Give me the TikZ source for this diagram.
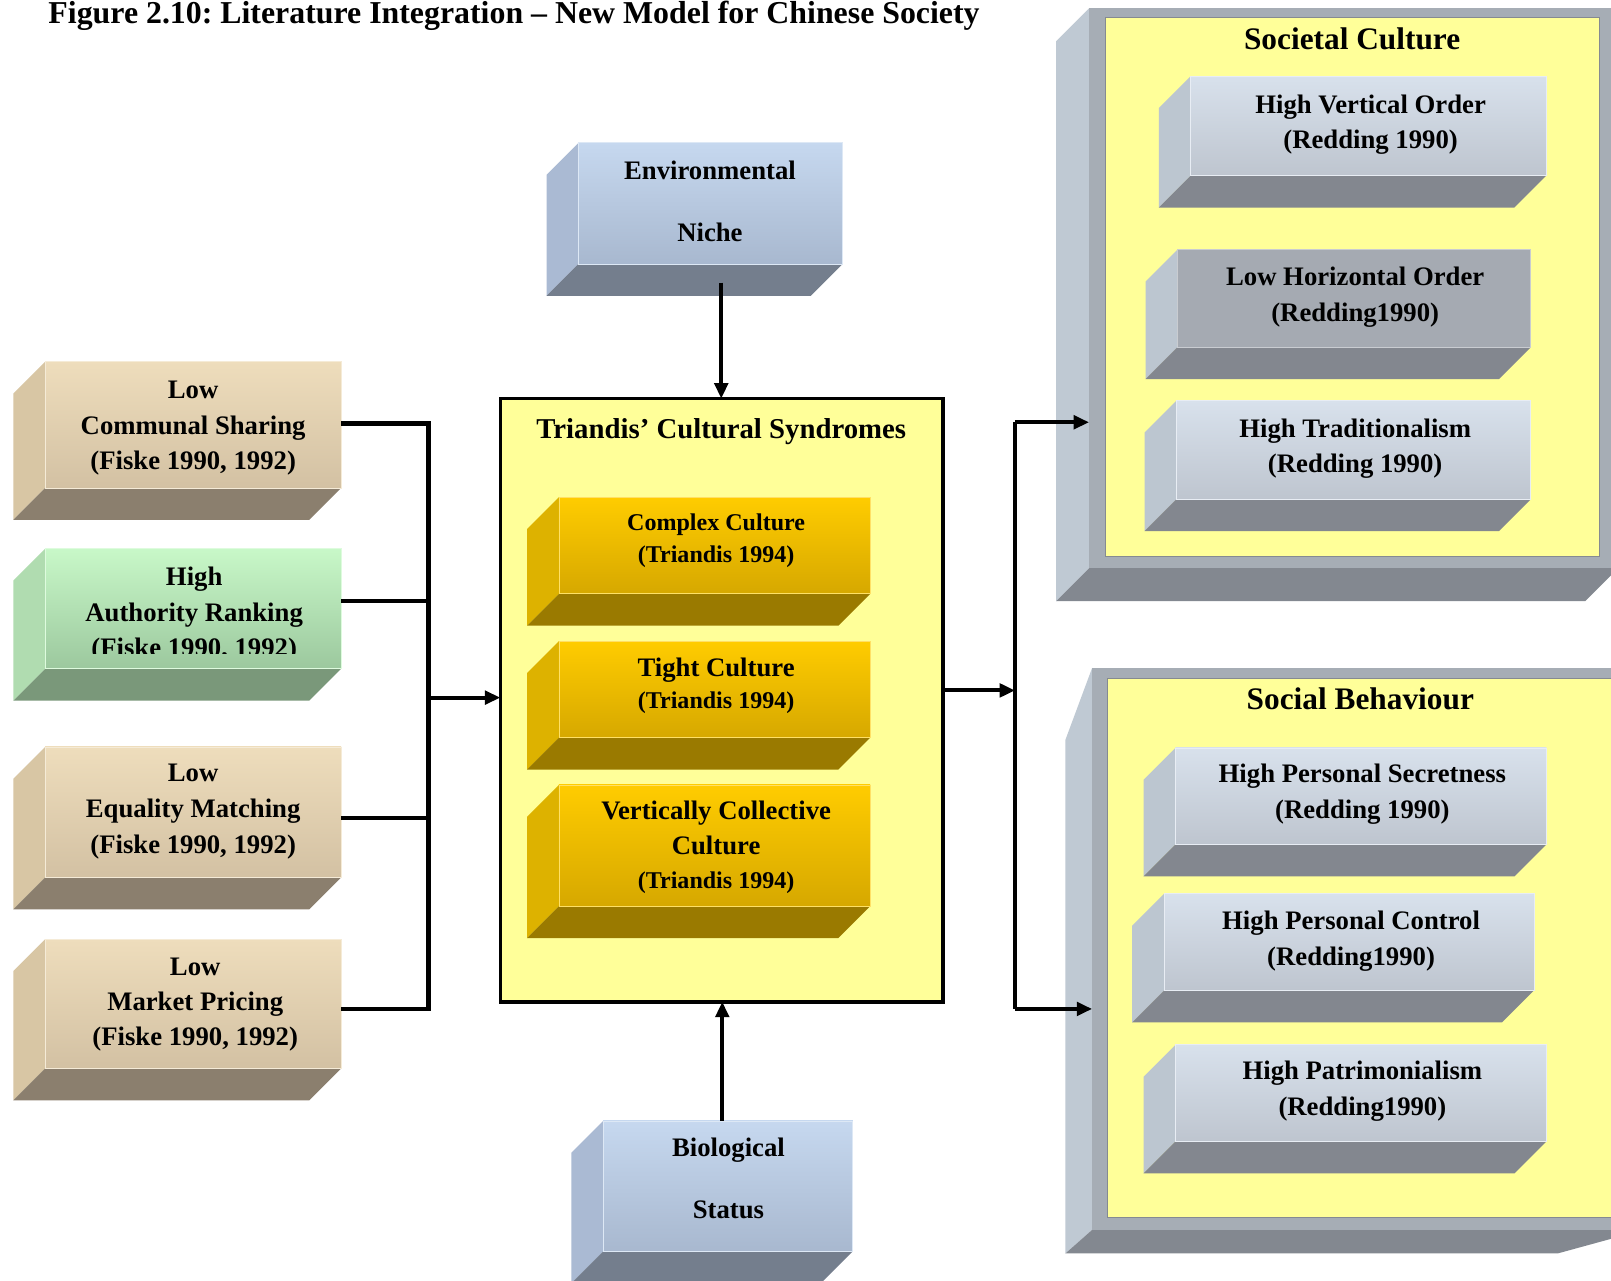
\documentclass[tikz,border=0pt]{standalone}
\usepackage{fontspec}
\setmainfont{Liberation Serif}
\usetikzlibrary{arrows.meta,calc}
\frenchspacing
\definecolor{tanT}{HTML}{EEDDBC}
\definecolor{tanB}{HTML}{D3C1A3}
\definecolor{tanS}{HTML}{D8C6A4}
\definecolor{tanD}{HTML}{8B7F6E}
\definecolor{grnT}{HTML}{C8F8C8}
\definecolor{grnB}{HTML}{9CC89E}
\definecolor{grnS}{HTML}{B0DCB0}
\definecolor{grnD}{HTML}{7A987A}
\definecolor{bluT}{HTML}{C6D8EF}
\definecolor{bluB}{HTML}{A8B8CF}
\definecolor{bluS}{HTML}{AABAD3}
\definecolor{bluD}{HTML}{747E8D}
\definecolor{gldT}{HTML}{FFCC00}
\definecolor{gldB}{HTML}{D6A800}
\definecolor{gldS}{HTML}{DDB200}
\definecolor{gldD}{HTML}{9A7A00}
\definecolor{gryT}{HTML}{D8E1EC}
\definecolor{gryB}{HTML}{BEC5CF}
\definecolor{gryS}{HTML}{BCC6D0}
\definecolor{gryD}{HTML}{83878F}
\definecolor{gryM}{HTML}{A5AAB2}
\definecolor{frm}{HTML}{A6ADB5}
\definecolor{frmS}{HTML}{BFC9D3}
\definecolor{frmD}{HTML}{838890}
\definecolor{paleY}{HTML}{FFFF99}
\tikzset{
  face/.style={shape=rectangle, anchor=north west, inner sep=0pt, outer sep=0pt, line width=0.8pt},
  lbl/.style={align=center, anchor=base, inner sep=0pt, font=\bfseries\fontsize{26}{34.5}\selectfont},
  bus/.style={line width=4.5pt, line join=miter},
  arr/.style={line width=4pt, -{Triangle[length=15pt,width=13pt]}},
}
% #1 name, #2 x, #3 y, #4 w, #5 h, #6 top, #7 bottom, #8 side, #9 base
\newcommand\cuboid[9]{%
  \fill[#8] (#2,#3) -- ++(-31,31) -- ++(0,#5) -- ++(31,-31) -- cycle;
  \fill[#9] ([shift={(0,#5)}]#2,#3) -- ++(#4,0) -- ++(-31,31) -- ++(-#4,0) -- cycle;
  \node[face, minimum width=#4pt, minimum height=#5pt, top color=#6, bottom color=#7, draw=#6!60!white] (#1) at (#2,#3) {};
}
\begin{document}
\begin{tikzpicture}[x=1pt,y=-1pt]
\useasboundingbox (0,0) rectangle (1568,1246);
\fill[white] (0,0) rectangle (1568,1246);

% title
\node[anchor=base west, inner sep=0pt, font=\bfseries\fontsize{31}{36}\selectfont] (title) at (47,23)
  {Figure 2.10: Literature Integration – New Model for Chinese Society};

% ---------- big frames on the right ----------
\fill[frmS] (1060,8) -- (1028,40) -- (1028,585) -- (1060,553) -- cycle;
\fill[frmD] (1060,553) -- (1575,553) -- (1543,585) -- (1028,585) -- cycle;
\node[face, fill=frm, minimum width=515pt, minimum height=545pt] (sc) at (1060,8) {};
\node[face, fill=paleY, draw=frm!80!black, line width=0.6pt, minimum width=481pt, minimum height=524pt] (sci) at (1076,17) {};

\fill[frmS] (1063,650) -- (1037,720) -- (1037,1220) -- (1063,1197) -- cycle;
\fill[frmD] (1063,1197) -- (1600,1197) -- (1516,1220) -- (1037,1220) -- cycle;
\node[face, fill=frm, minimum width=537pt, minimum height=547pt] (sb) at (1063,650) {};
\node[face, fill=paleY, draw=frm!80!black, line width=0.6pt, minimum width=522pt, minimum height=525pt] (sbi) at (1078,660) {};

% ---------- Triandis box ----------
\node[face, fill=paleY, draw=black, line width=3.5pt, minimum width=431pt, minimum height=587pt] (tri) at (487,388) {};

% ---------- cuboids ----------
\cuboid{b1}{44}{352}{288}{123}{tanT}{tanB}{tanS}{tanD}
\cuboid{b2}{44}{534}{288}{117}{grnT}{grnB}{grnS}{grnD}
\cuboid{b3}{44}{727}{288}{127}{tanT}{tanB}{tanS}{tanD}
\cuboid{b4}{44}{914}{288}{126}{tanT}{tanB}{tanS}{tanD}

\cuboid{env}{563}{139}{257}{118}{bluT}{bluB}{bluS}{bluD}
\cuboid{bio}{587}{1091}{243}{127}{bluT}{bluB}{bluS}{bluD}

\cuboid{g1}{544}{484}{303}{94}{gldT}{gldB}{gldS}{gldD}
\cuboid{g2}{544}{624}{303}{94}{gldT}{gldB}{gldS}{gldD}
\cuboid{g3}{544}{764}{303}{118}{gldT}{gldB}{gldS}{gldD}

\cuboid{s1}{1159}{74}{346}{97}{gryT}{gryB}{gryS}{gryD}
\cuboid{s2}{1146}{243}{344}{95}{gryM}{gryM}{gryS}{gryD}
\cuboid{s3}{1145}{390}{345}{96}{gryT}{gryB}{gryS}{gryD}

\cuboid{r1}{1144}{728}{361}{94}{gryT}{gryB}{gryS}{gryD}
\cuboid{r2}{1133}{870}{360}{94}{gryT}{gryB}{gryS}{gryD}
\cuboid{r3}{1144}{1017}{361}{94}{gryT}{gryB}{gryS}{gryD}

% ---------- labels (anchor = baseline of the last line) ----------
\node[lbl] (t1) at (188,457) {Low\\Communal Sharing\\(Fiske 1990, 1992)};
\begin{scope}
  \clip (0,534) rectangle (400,636);
  \node[lbl] (t2) at (189,639) {High\\Authority Ranking\\(Fiske 1990, 1992)};
\end{scope}
\node[lbl, font=\bfseries\fontsize{26}{35}\selectfont] (t3) at (188,831) {Low\\Equality Matching\\(Fiske 1990, 1992)};
\node[lbl] (t4) at (190,1018) {Low\\Market Pricing\\(Fiske 1990, 1992)};

\node[lbl, font=\bfseries\fontsize{26}{60}\selectfont] (t5) at (691,235) {Environmental\\Niche};
\node[lbl, font=\bfseries\fontsize{26}{60}\selectfont] (t6) at (709,1186) {Biological\\Status};

\node[lbl, font=\bfseries\fontsize{28}{34}\selectfont] (t7) at (702,427) {Triandis’ Cultural Syndromes};
\node[lbl, font=\bfseries\fontsize{23.4}{31}\selectfont] (t8) at (697,547) {Complex Culture\\(Triandis 1994)};
\node[lbl, font=\bfseries\fontsize{26}{32}\selectfont] (t9) at (697,690) {Tight Culture\\{\fontsize{23.4}{32}\selectfont(Triandis 1994)}};
\node[lbl, font=\bfseries\fontsize{26}{33.5}\selectfont] (t10) at (697,865) {Vertically Collective\\Culture\\{\fontsize{23.4}{32}\selectfont(Triandis 1994)}};

\node[lbl, font=\bfseries\fontsize{30.5}{36}\selectfont] (t11) at (1316,48) {Societal Culture};
\node[lbl, font=\bfseries\fontsize{26}{35}\selectfont] (t12) at (1334,145) {High Vertical Order\\(Redding 1990)};
\node[lbl, font=\bfseries\fontsize{26}{35}\selectfont] (t13) at (1319,313) {Low Horizontal Order\\(Redding1990)};
\node[lbl, font=\bfseries\fontsize{26}{34}\selectfont] (t14) at (1319,460) {High Traditionalism\\(Redding 1990)};

\node[lbl, font=\bfseries\fontsize{30.5}{36}\selectfont] (t15) at (1324,691) {Social Behaviour};
\node[lbl, font=\bfseries\fontsize{26}{35}\selectfont] (t16) at (1326,797) {High Personal Secretness\\(Redding 1990)};
\node[lbl, font=\bfseries\fontsize{26}{35}\selectfont] (t17) at (1315,940) {High Personal Control\\(Redding1990)};
\node[lbl, font=\bfseries\fontsize{26}{35}\selectfont] (t18) at (1326,1086) {High Patrimonialism\\(Redding1990)};

% ---------- connectors ----------
\coordinate (busx) at (417,0);
\coordinate (o1) at ([yshift=1.5pt]b1.east);
\coordinate (o2) at ([yshift=7.5pt]b2.east);
\coordinate (o3) at ([yshift=-5.5pt]b3.east);
\coordinate (o4) at ([yshift=-5pt]b4.east);
\draw[bus] (o1) -- (o1 -| busx) -- (o4 -| busx) -- (o4);
\draw[bus] (o2) -- (o2 -| busx);
\draw[bus] (o3) -- (o3 -| busx);
\coordinate (jl) at (417,679);
\draw[arr] (jl) -- (jl -| tri.west);

\coordinate (envo) at ([xshift=10.5pt,yshift=-18pt]env.south);
\draw[arr] (envo) -- (envo |- tri.north);
\coordinate (bioo) at ([xshift=-5.5pt]bio.north);
\draw[arr] (bioo) -- (bioo |- tri.south);

\coordinate (jr) at (988,672);
\coordinate (ya) at (0,411);
\coordinate (yb) at (0,982);
\draw[arr] (jr -| tri.east) -- (jr);
\draw[bus] (jr |- ya) -- (jr |- yb);
\draw[arr] (jr |- ya) -- (ya -| sc.west);
\draw[arr] (jr |- yb) -- (yb -| sb.west);
\end{tikzpicture}
\end{document}
